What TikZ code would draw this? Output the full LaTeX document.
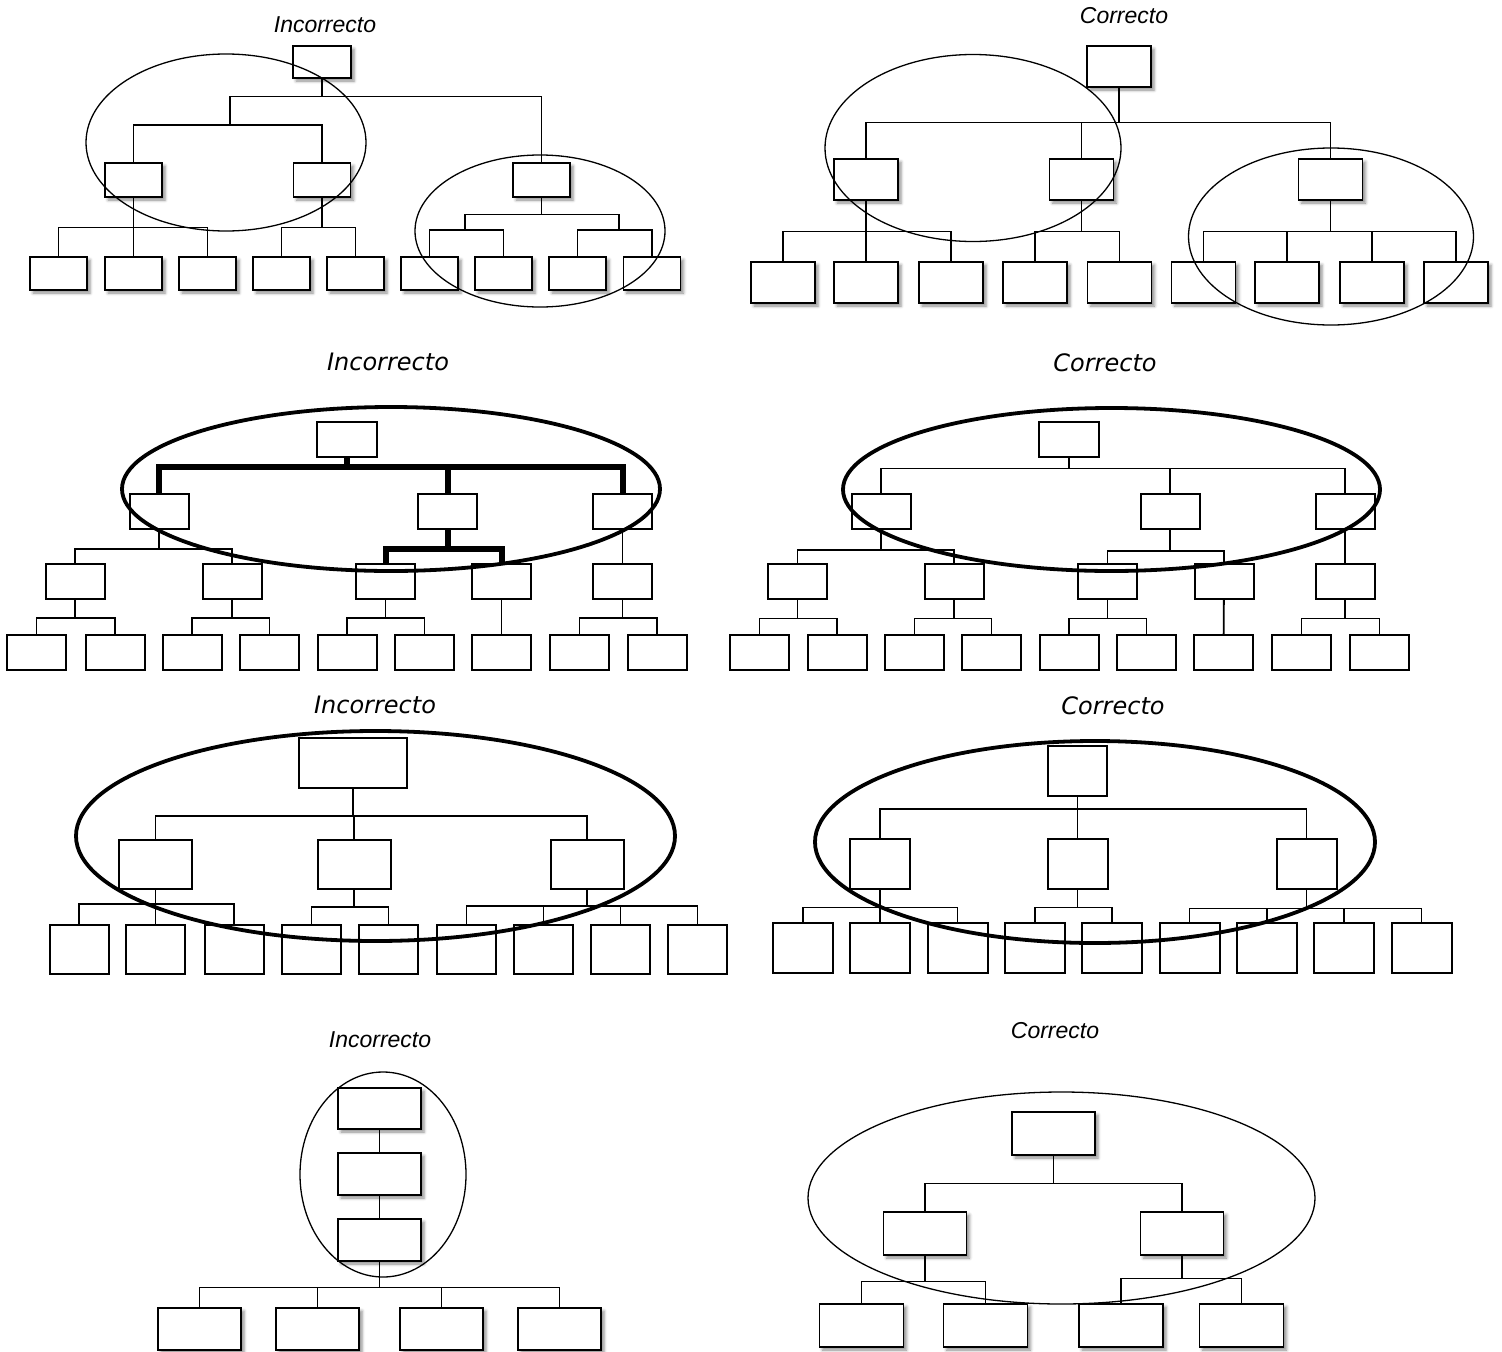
\documentclass[tikz,border=0pt]{standalone}
\usepackage{fontspec}
\setmainfont{Liberation Sans}
\newfontfamily\verdana{DejaVu Sans}
\usetikzlibrary{shadows.blur}
\tikzset{
  sbox/.style={draw, fill=white, line width=1.4pt, inner sep=0pt,
    blur shadow={shadow xshift=3pt, shadow yshift=-3pt, shadow blur radius=3pt, shadow opacity=45}},
  pbox/.style={draw, fill=white, line width=2pt, inner sep=0pt},
  lbl/.style={font=\fontsize{23}{26}\selectfont\itshape, inner sep=0pt},
  vlbl/.style={font=\fontsize{24}{28}\selectfont\verdana\itshape, inner sep=0pt},
  heavy/.style={line width=6pt},
  ring/.style={line width=1.3pt},
  bigring/.style={line width=3.8pt}
}
\begin{document}
\begin{tikzpicture}[x=1pt, y=-1pt, line width=1.4pt]
        \useasboundingbox (0,0) rectangle (1502,1352);

        % arriba izquierda
        \node [lbl] (t1) at (325,25) {Incorrecto};
        \node [sbox, minimum width=58pt, minimum height=32pt] (p1r) at (322,62) {};
        \node [sbox, minimum width=57pt, minimum height=34pt] (p1m1) at (133.5,180) {};
        \node [sbox, minimum width=57pt, minimum height=34pt] (p1m2) at (322,180) {};
        \node [sbox, minimum width=57pt, minimum height=34pt] (p1m3) at (541.5,180) {};
        \foreach \x [count=\i] in {58.5,133.5,207.5,281.5,355.5,429.5,503.5,577.5,652}
          \node [sbox, minimum width=57pt, minimum height=33pt] (p1l\i) at (\x,273.5) {};
        \coordinate (p1j1) at (230,125);
        \coordinate (p1j2) at (465,230);
        \coordinate (p1j3) at (619,230);
        \draw (p1r.south) -- ++(0,18) -| (p1j1);
        \draw (p1r.south) -- ++(0,18) -| (p1m3.north);
        \draw (p1j1) -| (p1m1.north);
        \draw (p1j1) -| (p1m2.north);
        \foreach \i in {1,2,3} \draw (p1m1.south) -- ++(0,30) -| (p1l\i.north);
        \foreach \i in {4,5} \draw (p1m2.south) -- ++(0,30) -| (p1l\i.north);
        \draw (p1m3.south) -- ++(0,17) -| (p1j2);
        \draw (p1m3.south) -- ++(0,17) -| (p1j3);
        \foreach \i in {6,7} \draw (p1j2) -| (p1l\i.north);
        \foreach \i in {8,9} \draw (p1j3) -| (p1l\i.north);
        \draw [ring] (226,142.5) ellipse [x radius=140, y radius=88.5];
        \draw [ring] (540,231) ellipse [x radius=125, y radius=76];

        % arriba derecha
        \node [lbl] (t2) at (1124,16) {Correcto};
        \node [sbox, minimum width=64pt, minimum height=41pt] (p2r) at (1119,66.5) {};
        \foreach \x [count=\i] in {866,1081.5,1330.5}
          \node [sbox, minimum width=64pt, minimum height=41pt] (p2m\i) at (\x,179.5) {};
        \foreach \x [count=\i] in {783,866,951,1035,1119.5,1203.5,1287,1372,1456}
          \node [sbox, minimum width=64pt, minimum height=41pt] (p2l\i) at (\x,282.5) {};
        \foreach \i in {1,2,3} \draw (p2r.south) -- ++(0,35) -| (p2m\i.north);
        \foreach \i in {1,2,3} \draw (p2m1.south) -- ++(0,31) -| (p2l\i.north);
        \foreach \i in {4,5} \draw (p2m2.south) -- ++(0,31) -| (p2l\i.north);
        \foreach \i in {6,7,8,9} \draw (p2m3.south) -- ++(0,31) -| (p2l\i.north);
        \draw [ring] (973,148) ellipse [x radius=148, y radius=93.5];
        \draw [ring] (1331,236.5) ellipse [x radius=142.5, y radius=88.5];

        \begin{scope}[line width=1.8pt]
        % centro izquierda
        \node [vlbl] (t3) at (388,362) {Incorrecto};
        \node [pbox, minimum width=60pt, minimum height=35pt] (p3r) at (347,439.5) {};
        \foreach \x [count=\i] in {159,447.5,622.5}
          \node [pbox, minimum width=59pt, minimum height=35pt] (p3m\i) at (\x,511.5) {};
        \foreach \x [count=\i] in {75,232,385.5,501.5,622.5}
          \node [pbox, minimum width=59pt, minimum height=35pt] (p3c\i) at (\x,581.5) {};
        \foreach \x [count=\i] in {36.5,115,192,269.5,347,424.5,501.5,579.5,657}
          \node [pbox, minimum width=59pt, minimum height=35pt] (p3l\i) at (\x,652.5) {};
        \foreach \i in {1,2,3} \draw [heavy] (p3r.south) -- ++(0,9) -| (p3m\i.north);
        \foreach \i in {1,2} \draw (p3m1.south) -- ++(0,19) -| (p3c\i.north);
        \foreach \i in {3,4} \draw [heavy] (p3m2.south) -- ++(0,19) -| (p3c\i.north);
        \draw (p3m3) -- (p3c5);
        \foreach \i in {1,2} \draw (p3c1.south) -- ++(0,18) -| (p3l\i.north);
        \foreach \i in {3,4} \draw (p3c2.south) -- ++(0,18) -| (p3l\i.north);
        \foreach \i in {5,6} \draw (p3c3.south) -- ++(0,18) -| (p3l\i.north);
        \draw (p3c4) -- (p3l7);
        \foreach \i in {8,9} \draw (p3c5.south) -- ++(0,18) -| (p3l\i.north);
        \draw [bigring] (391,489) ellipse [x radius=269, y radius=82];

        % centro derecha
        \node [vlbl] (t4) at (1105,363) {Correcto};
        \node [pbox, minimum width=60pt, minimum height=35pt] (p4r) at (1069,439.5) {};
        \foreach \x [count=\i] in {881,1170,1345}
          \node [pbox, minimum width=59pt, minimum height=35pt] (p4m\i) at (\x,511.5) {};
        \foreach \x [count=\i] in {797.5,954,1107.5,1224,1345}
          \node [pbox, minimum width=59pt, minimum height=35pt] (p4c\i) at (\x,581.5) {};
        \foreach \x [count=\i] in {759.5,837,914.5,991.5,1069,1146.5,1223.5,1301.5,1379.5}
          \node [pbox, minimum width=59pt, minimum height=35pt] (p4l\i) at (\x,652.5) {};
        \foreach \i in {1,2,3} \draw (p4r.south) -- ++(0,10.5) -| (p4m\i.north);
        \foreach \i in {1,2} \draw (p4m1.south) -- ++(0,20) -| (p4c\i.north);
        \foreach \i in {3,4} \draw (p4m2.south) -- ++(0,21) -| (p4c\i.north);
        \draw (p4m3) -- (p4c5);
        \foreach \i in {1,2} \draw (p4c1.south) -- ++(0,18.5) -| (p4l\i.north);
        \foreach \i in {3,4} \draw (p4c2.south) -- ++(0,18.5) -| (p4l\i.north);
        \foreach \i in {5,6} \draw (p4c3.south) -- ++(0,18.5) -| (p4l\i.north);
        \draw (p4c4) -- (p4l7);
        \foreach \i in {8,9} \draw (p4c5.south) -- ++(0,18.5) -| (p4l\i.north);
        \draw [bigring] (1111.5,489.5) ellipse [x radius=268.5, y radius=81.5];

        % abajo izquierda (anchos)
        \node [vlbl] (t5) at (375,705) {Incorrecto};
        \node [pbox, minimum width=108pt, minimum height=50pt] (p5r) at (353,763) {};
        \foreach \x [count=\i] in {155.5,354,587}
          \node [pbox, minimum width=73pt, minimum height=49pt] (p5m\i) at (\x,864.5) {};
        \foreach \x [count=\i] in {79,155.5,234,311.5,388.5,466.5,543.5,620.5,697.5}
          \node [pbox, minimum width=59pt, minimum height=49pt] (p5l\i) at (\x,949) {};
        \foreach \i in {1,2,3} \draw (p5r.south) -- ++(0,27) -| (p5m\i.north);
        \foreach \i in {1,2,3} \draw (p5m1.south) -- ++(0,14) -| (p5l\i.north);
        \foreach \i in {4,5} \draw (p5m2.south) -- ++(0,17) -| (p5l\i.north);
        \foreach \i in {6,7,8,9} \draw (p5m3.south) -- ++(0,16) -| (p5l\i.north);
        \draw [bigring] (375.5,836) ellipse [x radius=299.5, y radius=105];

        % abajo derecha (anchos)
        \node [vlbl] (t6) at (1113,706) {Correcto};
        \node [pbox, minimum width=59pt, minimum height=50pt] (p6r) at (1077.5,771) {};
        \foreach \x [count=\i] in {880,1077.5,1306.5}
          \node [pbox, minimum width=60pt, minimum height=50pt] (p6m\i) at (\x,863.5) {};
        \foreach \x [count=\i] in {803,880,957.5,1035,1112,1189.5,1267,1344,1421.5}
          \node [pbox, minimum width=60pt, minimum height=50pt] (p6l\i) at (\x,947.5) {};
        \foreach \i in {1,2,3} \draw (p6r.south) -- ++(0,12) -| (p6m\i.north);
        \foreach \i in {1,2,3} \draw (p6m1.south) -- ++(0,18) -| (p6l\i.north);
        \foreach \i in {4,5} \draw (p6m2.south) -- ++(0,18) -| (p6l\i.north);
        \foreach \i in {6,7,8,9} \draw (p6m3.south) -- ++(0,19) -| (p6l\i.north);
        \draw [bigring] (1095,842) ellipse [x radius=280, y radius=101];
        \end{scope}

        % cadena
        \node [lbl] (t7) at (380,1040) {Incorrecto};
        \node [sbox, minimum width=83pt, minimum height=41pt] (p7a) at (379.5,1108.5) {};
        \node [sbox, minimum width=83pt, minimum height=42pt] (p7b) at (379.5,1174) {};
        \node [sbox, minimum width=83pt, minimum height=42pt] (p7c) at (379.5,1240) {};
        \foreach \x [count=\i] in {199.5,317.5,441.5,559.5}
          \node [sbox, minimum width=83pt, minimum height=42pt] (p7l\i) at (\x,1329) {};
        \draw (p7a) -- (p7b);
        \draw (p7b) -- (p7c);
        \foreach \i in {1,2,3,4} \draw (p7c.south) -- ++(0,26) -| (p7l\i.north);
        \draw [ring] (383,1174.5) ellipse [x radius=83, y radius=102.5];

        % dos niveles
        \node [lbl] (t8) at (1055,1031) {Correcto};
        \node [sbox, minimum width=83pt, minimum height=43pt] (p8r) at (1053.5,1133.5) {};
        \node [sbox, minimum width=83pt, minimum height=43pt] (p8m1) at (925,1233.5) {};
        \node [sbox, minimum width=83pt, minimum height=43pt] (p8m2) at (1182,1233.5) {};
        \foreach \x [count=\i] in {861.5,985.5,1121,1241.5}
          \node [sbox, minimum width=84pt, minimum height=43pt] (p8l\i) at (\x,1325.5) {};
        \foreach \i in {1,2} \draw (p8r.south) -- ++(0,28) -| (p8m\i.north);
        \foreach \i in {1,2} \draw (p8m1.south) -- ++(0,25.5) -| (p8l\i.north);
        \foreach \i in {3,4} \draw (p8m2.south) -- ++(0,22.5) -| (p8l\i.north);
        \draw [ring] (1061.5,1198) ellipse [x radius=253.5, y radius=106];
      \end{tikzpicture}
\end{document}
